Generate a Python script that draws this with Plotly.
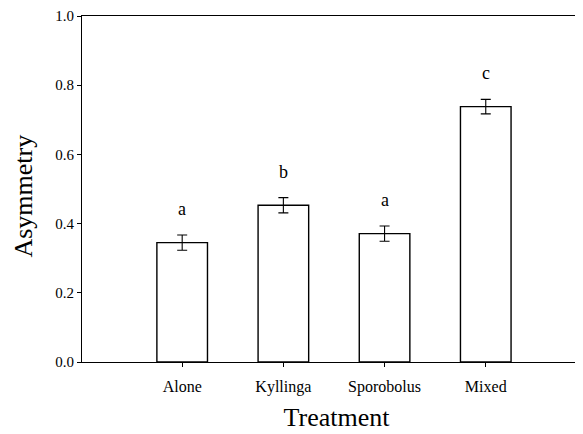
import plotly.graph_objects as go

categories = ["Alone", "Kyllinga", "Sporobolus", "Mixed"]
asymmetry = [0.345, 0.453, 0.371, 0.738]
se = [0.022, 0.022, 0.022, 0.021]
letters = ["a", "b", "a", "c"]
yticks = [0.0, 0.2, 0.4, 0.6, 0.8, 1.0]

serif = "Liberation Serif, Times New Roman, serif"

fig = go.Figure()
fig.add_trace(go.Bar(
    x=categories, y=asymmetry, width=0.5,
    marker=dict(color="white", line=dict(color="black", width=1.4)),
    error_y=dict(type="data", array=se, visible=True, color="black",
                 thickness=1.1, width=5),
    showlegend=False,
))
for c, v, e, l in zip(categories, asymmetry, se, letters):
    fig.add_annotation(x=c, y=v + e, text=l, showarrow=False,
                       yanchor="bottom", yshift=14,
                       font=dict(family=serif, size=18, color="black"))

# y-axis title (placed slightly below the plot centre, as in the original)
fig.add_annotation(text="Asymmetry", xref="paper", yref="paper",
                   x=0, y=0.478, xanchor="center", yanchor="middle",
                   xshift=-58, textangle=-90, showarrow=False,
                   font=dict(family=serif, size=26, color="black"))

fig.update_layout(
    width=583, height=434,
    margin=dict(l=74, r=0, t=8, b=80),
    plot_bgcolor="white", paper_bgcolor="white",
    font=dict(family=serif, color="black"),
    xaxis=dict(
        range=[-0.99, 4.04], showline=True, mirror=True, linecolor="black",
        linewidth=1.2, ticks="outside", ticklen=4, tickcolor="black",
        tickfont=dict(size=16), ticklabelstandoff=6, automargin=False,
        title=dict(text="Treatment", font=dict(size=26), standoff=12),
        showgrid=False, zeroline=False,
    ),
    yaxis=dict(
        range=[0, 1], tickvals=yticks, ticktext=[f"{t:.1f}" for t in yticks],
        showline=True, linecolor="black", linewidth=1.2,
        ticks="outside", ticklen=4, tickcolor="black",
        tickfont=dict(size=15), automargin=False,
        showgrid=False, zeroline=False,
    ),
)
fig.write_html("out.html")
